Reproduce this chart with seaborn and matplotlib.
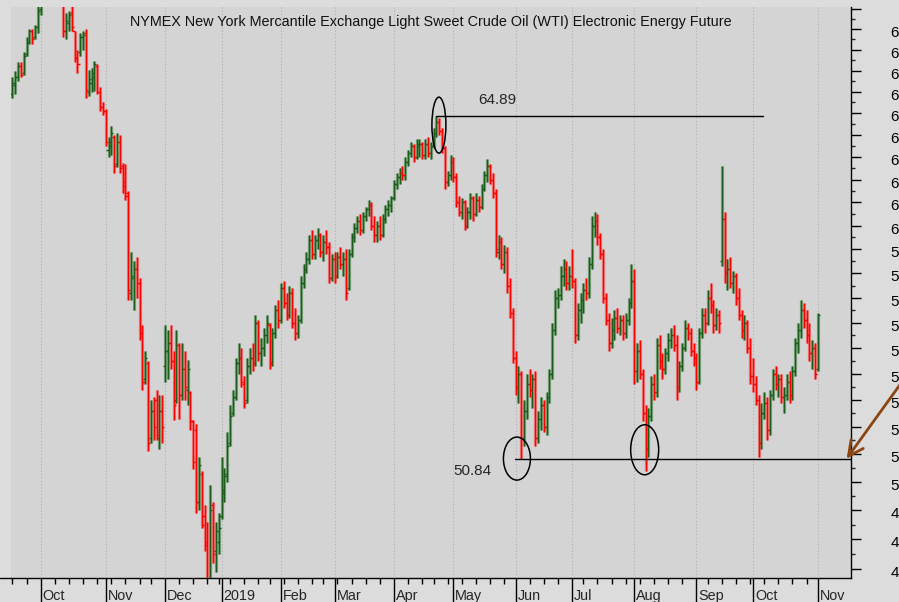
import numpy as np
import pandas as pd
import matplotlib
matplotlib.use("Agg")
import matplotlib.pyplot as plt
import matplotlib.transforms as mtransforms
from matplotlib.patches import Ellipse
from matplotlib.lines import Line2D
from matplotlib.ticker import FixedLocator, FixedFormatter, NullFormatter
import seaborn as sns

TITLE = "NYMEX New York Mercantile Exchange Light Sweet Crude Oil (WTI) Electronic Energy Future"
START, END = "2018-09-17", "2019-11-01"
HOLIDAYS = ["2018-11-22", "2018-12-25", "2019-01-01", "2019-01-21", "2019-02-18",
            "2019-04-19", "2019-05-27", "2019-07-04", "2019-09-02"]

OPEN = [65.9,66.3,66.7,67.2,66.9,67.8,68.4,68.9,68.6,69.1,
        70.0,71.2,72.3,72.9,71.6,71.7,71.3,71.8,70.3,68.9,
        69.3,69.8,68.9,67.6,67.9,68.6,68.8,66.0,66.4,66.7,
        67.2,66.0,65.3,65.1,63.3,63.5,63.9,62.7,63.7,62.6,
        61.9,61.4,57.2,57.9,58.2,57.6,55.6,53.8,54.4,51.6,
        52.6,53.0,51.6,52.6,54.3,54.9,55.2,54.5,53.0,55.1,
        53.2,54.2,53.4,53.3,52.2,51.9,49.3,50.3,48.8,47.9,
        46.0,49.2,47.6,47.9,48.8,49.6,50.3,51.4,52.5,53.1,
        54.4,54.6,53.6,53.0,54.3,54.6,54.4,56.0,54.8,55.0,
        55.5,55.9,54.4,55.6,56.5,56.1,57.4,56.8,56.3,57.2,
        56.0,55.6,56.1,57.6,58.2,58.6,59.4,58.8,59.4,59.6,
        58.9,59.3,59.1,57.8,58.6,57.9,58.7,58.4,58.6,57.4,
        58.8,59.5,59.9,60.2,59.8,60.4,60.7,60.9,60.0,59.6,
        60.0,59.6,60.3,60.7,60.9,61.2,61.8,62.1,62.3,62.2,
        62.8,63.2,63.5,63.0,63.5,63.6,63.1,63.6,63.2,63.5,
        64.1,64.6,64.2,63.4,61.9,62.2,62.8,62.1,61.0,60.6,
        61.0,60.0,60.6,61.2,60.5,61.1,60.8,61.6,62.2,62.6,
        62.0,61.4,58.9,59.3,58.4,58.9,57.5,56.4,54.6,53.5,
        54.0,51.6,52.6,53.6,53.4,53.8,51.6,52.3,52.8,52.0,
        53.1,54.0,55.7,57.0,57.1,57.9,58.2,57.6,57.9,57.7,
        55.5,56.5,56.9,57.3,57.2,58.4,60.0,60.2,59.5,58.8,
        57.0,56.1,55.2,55.7,56.2,55.8,56.1,55.6,56.1,56.8,
        57.7,54.1,54.9,54.0,52.5,51.2,52.4,53.6,53.3,55.1,
        54.5,54.2,54.8,55.3,55.5,55.1,53.5,54.3,55.0,55.8,
        55.6,54.9,54.6,53.7,55.6,56.3,56.0,57.0,56.7,55.9,
        56.3,58.5,60.3,58.0,58.2,57.6,57.9,57.0,56.3,55.7,
        56.0,55.0,53.9,53.6,53.0,51.4,52.5,52.9,51.9,53.2,
        54.0,53.6,53.8,53.1,53.2,53.7,53.2,54.1,55.2,55.7,
        56.5,56.1,55.5,54.8,55.0,54.2]
HIGH = [66.7,67.0,67.4,67.4,67.9,68.6,69.0,69.0,69.2,70.3,
        71.5,72.5,73.2,73.0,72.0,71.9,72.2,72.0,70.4,69.8,
        69.9,70.2,68.9,68.0,68.8,68.9,69.0,67.05,67.1,67.45,
        67.3,66.2,65.5,65.2,63.9,64.4,64.0,64.1,64.0,62.75,
        62.7,61.5,58.9,58.5,58.7,57.8,55.9,54.9,54.5,53.0,
        53.1,53.4,53.2,53.2,55.9,55.7,55.9,54.9,55.7,55.2,
        55.2,54.9,54.55,53.35,52.25,52.1,50.9,50.4,49.2,48.6,
        49.9,49.3,48.6,48.9,50.9,50.5,51.8,52.8,53.4,54.6,
        55.2,55.0,53.9,54.6,55.0,55.2,56.3,56.1,55.4,55.8,
        56.3,56.0,55.8,56.7,56.9,57.6,57.7,57.2,57.5,57.4,
        56.6,56.3,57.9,58.4,58.9,59.6,59.8,59.6,59.9,59.7,
        59.6,59.8,59.3,58.8,58.9,58.9,59.1,58.9,59.0,59.0,
        59.7,60.1,60.4,60.5,60.6,60.8,61.1,61.0,60.4,60.2,
        60.4,60.5,60.9,61.1,61.3,62.0,62.3,62.5,62.6,63.0,
        63.3,63.7,63.6,63.8,63.8,63.7,63.8,63.9,63.7,64.3,
        64.89,64.8,64.3,63.5,62.4,63.1,63.0,62.3,61.3,61.2,
        61.1,60.8,61.4,61.3,61.4,61.3,61.8,62.4,62.9,62.7,
        62.3,61.6,59.6,59.5,59.2,59.1,57.8,56.6,54.9,54.3,
        54.1,53.0,54.0,54.2,54.0,54.1,52.6,53.1,53.0,53.3,
        54.2,56.0,57.3,57.4,58.3,58.6,58.5,58.3,59.0,57.8,
        56.8,57.2,57.6,57.8,58.7,60.4,60.6,60.5,59.7,59.0,
        57.2,56.4,56.2,56.5,56.6,56.3,56.3,56.4,57.0,58.4,
        58.2,55.2,55.3,54.2,52.8,52.7,53.9,54.0,55.4,55.5,
        54.8,55.0,55.6,55.8,55.9,55.5,54.5,55.2,56.1,56.0,
        55.8,55.2,54.8,55.8,56.6,56.6,57.3,57.6,56.9,56.6,
        56.5,62.6,60.6,58.6,58.7,58.1,58.0,57.4,56.5,56.3,
        56.1,55.4,54.6,53.9,53.2,52.9,53.3,53.1,53.4,54.2,
        54.3,54.0,54.0,53.5,54.0,54.1,54.3,55.4,56.0,56.9,
        56.8,56.5,56.0,55.3,55.2,56.4]
LOW = [65.7,65.9,66.5,66.7,66.8,67.7,68.3,68.3,68.5,68.8,
       69.7,70.8,71.9,71.3,70.9,70.6,70.9,70.2,68.6,68.5,
       68.9,68.9,67.4,66.9,67.7,68.0,65.7,65.8,66.0,66.05,
       65.9,65.1,64.9,63.5,63.0,63.1,62.3,62.55,62.3,61.4,
       61.1,56.9,56.9,56.5,57.0,55.3,53.4,53.6,51.1,51.4,
       51.5,51.5,51.2,51.4,53.7,53.8,54.2,52.25,52.9,52.3,
       53.0,53.0,52.8,51.9,50.45,48.9,49.0,48.4,47.6,45.5,
       45.8,47.2,46.9,47.5,48.7,49.3,50.0,51.3,52.4,53.0,
       54.0,53.5,52.7,52.9,54.0,54.1,54.3,54.5,54.3,54.7,
       55.2,54.2,54.3,55.4,55.8,56.0,56.6,56.1,56.2,55.8,
       55.3,55.4,56.0,57.4,58.0,58.4,58.6,58.6,59.0,58.7,
       58.5,58.8,57.6,57.7,57.6,57.8,58.2,57.9,56.9,57.3,
       58.7,59.3,59.7,59.6,59.7,60.2,60.4,59.8,59.3,59.3,
       59.4,59.5,60.1,60.4,60.6,61.1,61.6,61.8,62.0,62.0,
       62.6,63.0,62.8,62.9,63.0,62.9,62.9,63.0,62.9,63.4,
       63.9,64.0,63.2,61.6,61.7,62.0,61.9,60.8,60.4,60.3,
       59.8,59.9,60.3,60.2,60.4,60.6,60.7,61.5,61.9,61.8,
       61.2,58.7,58.6,58.2,58.0,57.2,56.2,54.4,53.2,52.9,
       50.84,51.3,52.3,53.1,52.7,51.3,51.4,51.9,51.8,51.7,
       52.9,53.8,55.5,56.6,56.9,57.5,57.3,57.3,57.4,55.2,
       55.3,56.0,56.4,56.9,57.0,58.2,59.5,59.2,58.6,56.8,
       55.9,54.9,55.0,55.3,55.6,55.5,55.3,55.4,55.9,56.6,
       53.6,53.7,53.8,52.2,50.4,50.9,52.2,53.0,53.1,54.2,
       53.8,54.0,54.5,55.0,54.9,53.0,53.3,54.1,54.9,55.3,
       54.7,54.3,53.4,53.6,55.4,55.6,55.9,56.4,55.6,55.7,
       55.6,58.3,57.6,57.3,57.4,57.2,56.7,56.1,55.4,55.3,
       54.8,53.6,53.3,52.8,50.9,51.2,52.3,51.5,51.7,53.0,
       53.4,53.1,52.9,52.5,53.0,52.9,53.0,53.9,54.8,55.4,
       55.8,55.2,54.5,54.2,53.8,54.1]
CLOSE = [66.4,66.7,67.2,66.8,67.7,68.4,68.9,68.5,69.1,69.9,
         71.2,72.3,72.9,71.6,71.7,71.2,71.8,70.4,68.9,69.4,
         69.7,69.1,67.6,67.3,68.6,68.7,66.1,66.6,66.9,67.3,
         66.0,65.3,65.1,63.7,63.7,64.1,62.6,63.7,62.5,61.7,
         61.3,57.3,57.8,58.2,57.6,55.6,53.7,54.6,51.4,52.6,
         52.0,51.7,52.6,52.0,54.9,55.2,54.5,52.8,55.1,53.2,
         54.2,53.5,54.2,52.2,50.7,49.3,50.6,48.5,47.8,45.8,
         49.0,47.5,48.3,48.4,49.7,50.2,51.3,52.4,53.1,54.4,
         54.6,53.7,52.9,54.3,54.6,54.4,56.0,54.8,55.0,55.5,
         56.0,54.4,55.6,56.5,56.1,57.4,56.8,56.3,57.2,56.0,
         55.6,56.1,57.6,58.2,58.6,59.4,58.8,59.4,59.6,58.9,
         59.3,59.1,57.8,58.6,57.9,58.7,58.4,58.6,57.2,58.8,
         59.5,59.9,60.2,59.8,60.4,60.7,60.9,60.0,59.6,60.0,
         59.6,60.3,60.7,60.9,61.2,61.8,62.1,62.3,62.2,62.8,
         63.2,63.5,63.0,63.6,63.6,63.1,63.6,63.2,63.5,64.1,
         64.6,64.2,63.4,61.9,62.2,62.8,62.1,61.0,60.6,61.0,
         60.0,60.6,61.2,60.5,61.1,60.8,61.6,62.2,62.6,62.0,
         61.4,59.0,59.3,58.4,58.9,57.5,56.4,54.6,53.5,54.0,
         51.6,52.6,53.6,53.4,53.8,51.6,52.3,52.8,52.0,53.1,
         54.0,55.7,57.0,57.1,57.9,58.2,57.6,57.9,57.7,55.5,
         56.5,56.9,57.3,57.2,58.4,60.0,60.2,59.5,58.8,57.0,
         56.1,55.2,55.7,56.2,55.8,56.1,55.6,56.1,56.8,57.7,
         54.1,54.9,54.0,52.5,51.2,52.4,53.6,53.3,55.1,54.5,
         54.2,54.8,55.3,55.5,55.1,53.5,54.3,55.0,55.8,55.6,
         54.9,54.6,53.7,55.6,56.3,56.0,57.0,56.7,55.9,56.3,
         56.0,60.3,58.0,58.2,57.6,57.9,57.0,56.3,55.7,56.0,
         55.0,53.9,53.6,53.0,51.4,52.5,52.9,51.9,53.2,54.0,
         53.6,53.8,53.1,53.2,53.7,53.2,54.1,55.2,55.7,56.5,
         56.1,55.5,54.8,55.0,54.0,56.3]

Y_TICKS = list(range(47, 71))
RESIST, SUPPORT = 64.89, 50.84

# ---------------------------------------------------------------- setup
sns.set_theme(style="ticks", rc={"axes.facecolor": "#d4d4d4",
                                 "figure.facecolor": "#dcdcdc"})
plt.rcParams["font.family"] = ["Liberation Sans", "DejaVu Sans"]

dates = pd.bdate_range(START, END)
dates = dates[~dates.isin(pd.to_datetime(HOLIDAYS))]
n = min(len(dates), len(OPEN))
df = pd.DataFrame({"date": dates[:n], "open": OPEN[:n], "high": HIGH[:n],
                   "low": LOW[:n], "close": CLOSE[:n]})
df["i"] = np.arange(n)
df["up"] = df["close"] >= df["open"]

W, H = 899, 602
fig = plt.figure(figsize=(W / 100, H / 100), dpi=100)
ax = fig.add_axes([11 / W, 24 / H, 840 / W, 571 / H])
ax.set_yscale("log")

GREEN, GREEN_CORE = "#3f7f3f", "#1c5c1c"
RED, RED_CORE = "#ff4040", "#ff0000"

for up, halo, core in [(True, GREEN, GREEN_CORE), (False, RED, RED_CORE)]:
    d = df[df["up"] == up]
    ax.vlines(d["i"], d["low"], d["high"], color=halo, lw=2.3, alpha=0.6, zorder=3)
    ax.vlines(d["i"], d["low"], d["high"], color=core, lw=0.9, zorder=4)
    ax.hlines(d["open"], d["i"] - 0.75, d["i"], color=core, lw=1.0, zorder=4)
    ax.hlines(d["close"], d["i"], d["i"] + 0.75, color=core, lw=1.0, zorder=4)

XMAX = 296.7
ax.set_xlim(-0.5, XMAX)
ax.set_ylim(46.70, 70.1)
ax.set_autoscale_on(False)

# ---------------------------------------------------------------- axes
ax.yaxis.tick_right()
ax.yaxis.set_major_locator(FixedLocator(Y_TICKS))
ax.yaxis.set_major_formatter(FixedFormatter(
    ["" if v == 70 else f"{v:.2f}" for v in Y_TICKS]))
ax.yaxis.set_minor_locator(FixedLocator([v + 0.5 for v in Y_TICKS[:-1]]))
ax.yaxis.set_minor_formatter(NullFormatter())
ax.tick_params(axis="y", which="major", length=7.5, width=1, pad=21,
               labelsize=11, colors="black", right=True, left=False)
ax.tick_params(axis="y", which="minor", length=3.2, width=1, right=True, left=False)
shift_down = mtransforms.ScaledTranslation(0, -2.5 / 100, fig.dpi_scale_trans)
for lab in ax.get_yticklabels():
    lab.set_transform(lab.get_transform() + shift_down)

month_first = df.groupby(df["date"].dt.to_period("M"))["i"].min()
week_first = df.groupby(df["date"].dt.to_period("W"))["i"].min()
mticks = [m for m in month_first.values if m > 0]
wticks = [w for w in week_first.values if w not in mticks]
ax.xaxis.set_major_locator(FixedLocator(mticks))
ax.xaxis.set_minor_locator(FixedLocator(wticks))
ax.xaxis.set_major_formatter(NullFormatter())
ax.tick_params(axis="x", which="major", length=17, width=1, colors="black")
ax.tick_params(axis="x", which="minor", length=4.5, width=1, colors="black")
ax.grid(axis="x", which="major", ls=(0, (1, 2)), color="#b0b0b0", lw=0.8)
ax.grid(axis="y", visible=False)

lab_tr = mtransforms.offset_copy(ax.get_xaxis_transform(), fig=fig,
                                 x=2, y=-11, units="dots")
for m in mticks:
    dt = df.loc[m, "date"]
    name = str(dt.year) if dt.month == 1 else dt.strftime("%b")
    ax.text(m, 0, name, transform=lab_tr, ha="left", va="top",
            fontsize=10.4, clip_on=False)

for s in ["left", "top"]:
    ax.spines[s].set_visible(False)
for s in ["right", "bottom"]:
    ax.spines[s].set_color("black")
    ax.spines[s].set_linewidth(1)
# the baseline continues to the left edge of the picture
fig.add_artist(Line2D([0, 11 / W], [24 / H, 24 / H], transform=fig.transFigure,
                      color="black", lw=1))

ax.text(0.5, 1 - 15 / 571, TITLE, transform=ax.transAxes, ha="center",
        va="center", fontsize=10.4, color="#111111")

# ---------------------------------------------------------------- annotations
recent = df[df["date"].dt.year == 2019]
peak_i = int(recent["high"].idxmax())
sns.lineplot(x=[peak_i, 265.5], y=[RESIST, RESIST], color="black", lw=1, ax=ax,
             zorder=5)
sns.lineplot(x=[177.8, XMAX], y=[SUPPORT, SUPPORT], color="black", lw=1, ax=ax,
             zorder=5)
ax.text(164.8, 65.6, f"{RESIST:.2f}", ha="left", va="center", fontsize=11)
ax.text(155.9, 50.4, f"{SUPPORT:.2f}", ha="left", va="center", fontsize=11)


def px_ellipse(xd, yd, w_px, h_px):
    tr = fig.dpi_scale_trans + mtransforms.ScaledTranslation(xd, yd, ax.transData)
    ax.add_patch(Ellipse((0, 0), w_px / 100, h_px / 100, transform=tr,
                         fill=False, ec="black", lw=1.1, zorder=6))


px_ellipse(150.9, 64.45, 14, 56)
px_ellipse(178.5, SUPPORT, 27, 43)
px_ellipse(223.7, 51.16, 28, 50)

ax.annotate("", xy=(845, H - 461), xycoords="figure pixels",
            xytext=(912, H - 368), textcoords="figure pixels",
            arrowprops=dict(arrowstyle="->,head_length=0.9,head_width=0.45",
                            color="#8b4513", lw=2),
            annotation_clip=False)

fig.savefig("out.png", dpi=100)
